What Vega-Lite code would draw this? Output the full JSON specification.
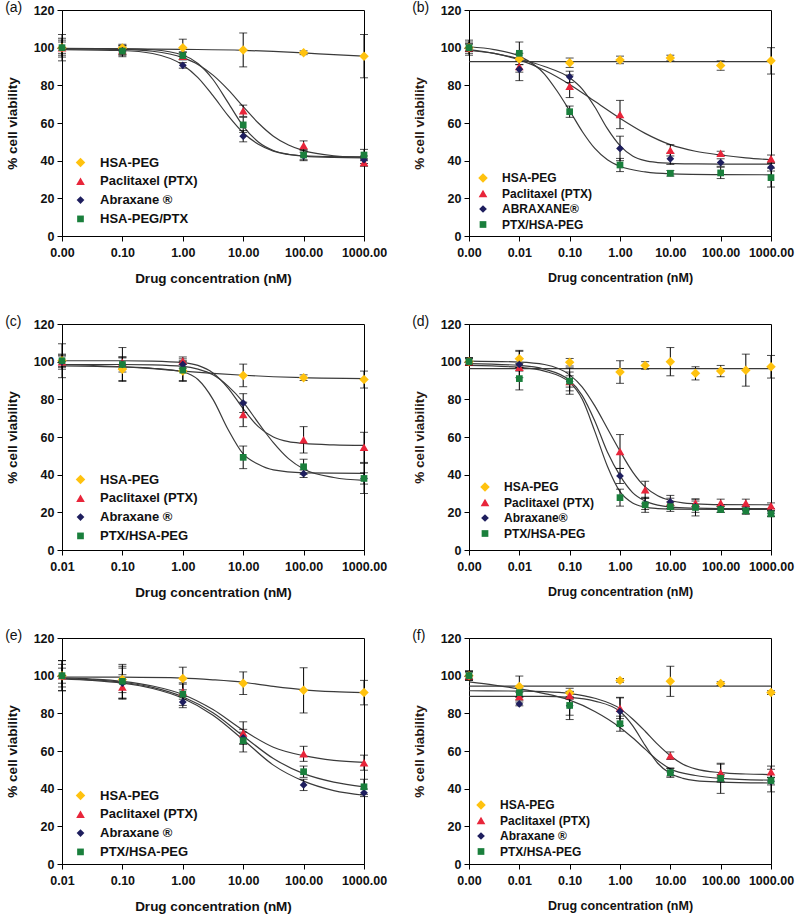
{
"$schema": "https://vega.github.io/schema/vega-lite/v6.json",
"padding": {"left": 4, "top": 0, "right": 5, "bottom": 2},
"config": {
 "font": "Liberation Sans",
 "view": {"stroke": "#000", "strokeWidth": 1},
 "axis": {"domainColor": "#000", "tickColor": "#000", "labelColor": "#111", "titleColor": "#111", "labelFontWeight": "bold", "labelFontSize": 12.5, "titleFontWeight": "bold", "titleFontSize": 13.5, "grid": false, "tickSize": 5, "labelFlush": false, "labelOverlap": false, "labelPadding": 3},
 "axisY": {"titlePadding": 14},
 "axisX": {"titlePadding": 13, "labelPadding": 5},
 "legend": {"orient": "none", "padding": 0, "labelFontSize": 13, "labelFontWeight": "bold", "labelColor": "#111", "rowPadding": 4.8, "labelOffset": 13},
 "title": {"anchor": "start", "frame": "bounds", "fontSize": 14, "fontWeight": "normal", "color": "#111", "dy": 15, "offset": 0}
},
"spacing": {"row": 28, "column": 23},
"columns": 2,
"resolve": {"scale": {"x": "independent", "y": "independent", "color": "independent", "shape": "independent", "size": "independent"}, "legend": {"color": "independent", "shape": "independent", "size": "independent"}},
"datasets": {
 "pts": [
  {"p":"a","s":"H","c":0.01,"v":100,"e":7},{"p":"a","s":"H","c":0.1,"v":99.8,"e":2},{"p":"a","s":"H","c":1,"v":100,"e":4.5},{"p":"a","s":"H","c":10,"v":98.8,"e":9},{"p":"a","s":"H","c":100,"v":97.3,"e":1},{"p":"a","s":"H","c":1000,"v":95.5,"e":11.5},
  {"p":"a","s":"P","c":0.01,"v":100,"e":4},{"p":"a","s":"P","c":0.1,"v":98.5,"e":2.5},{"p":"a","s":"P","c":1,"v":95.5,"e":2},{"p":"a","s":"P","c":10,"v":66.5,"e":3},{"p":"a","s":"P","c":100,"v":48,"e":2.5},{"p":"a","s":"P","c":1000,"v":39,"e":2},
  {"p":"a","s":"A","c":0.01,"v":100,"e":5},{"p":"a","s":"A","c":0.1,"v":98.3,"e":2},{"p":"a","s":"A","c":1,"v":90.6,"e":1.5},{"p":"a","s":"A","c":10,"v":53,"e":3},{"p":"a","s":"A","c":100,"v":42.5,"e":2},{"p":"a","s":"A","c":1000,"v":40.5,"e":2},
  {"p":"a","s":"N","c":0.01,"v":100,"e":3},{"p":"a","s":"N","c":0.1,"v":98.2,"e":3},{"p":"a","s":"N","c":1,"v":95.8,"e":2},{"p":"a","s":"N","c":10,"v":59,"e":4},{"p":"a","s":"N","c":100,"v":43,"e":3},{"p":"a","s":"N","c":1000,"v":43,"e":3},

  {"p":"b","s":"H","c":0.001,"v":100,"e":4},{"p":"b","s":"H","c":0.01,"v":94,"e":3},{"p":"b","s":"H","c":0.1,"v":92,"e":2.5},{"p":"b","s":"H","c":1,"v":93.5,"e":2},{"p":"b","s":"H","c":10,"v":94.5,"e":1.5},{"p":"b","s":"H","c":100,"v":90.5,"e":2.5},{"p":"b","s":"H","c":1000,"v":93,"e":7},
  {"p":"b","s":"P","c":0.001,"v":100,"e":3},{"p":"b","s":"P","c":0.01,"v":90,"e":3},{"p":"b","s":"P","c":0.1,"v":79.5,"e":6},{"p":"b","s":"P","c":1,"v":64.5,"e":7.5},{"p":"b","s":"P","c":10,"v":45.5,"e":3},{"p":"b","s":"P","c":100,"v":44,"e":1},{"p":"b","s":"P","c":1000,"v":41,"e":2},
  {"p":"b","s":"A","c":0.001,"v":100,"e":2},{"p":"b","s":"A","c":0.01,"v":88.5,"e":6},{"p":"b","s":"A","c":0.1,"v":84.5,"e":3},{"p":"b","s":"A","c":1,"v":46.5,"e":6.5},{"p":"b","s":"A","c":10,"v":41,"e":3},{"p":"b","s":"A","c":100,"v":39,"e":2},{"p":"b","s":"A","c":1000,"v":36.5,"e":2},
  {"p":"b","s":"N","c":0.001,"v":100,"e":2},{"p":"b","s":"N","c":0.01,"v":97,"e":6},{"p":"b","s":"N","c":0.1,"v":66,"e":3},{"p":"b","s":"N","c":1,"v":37.7,"e":3.5},{"p":"b","s":"N","c":10,"v":33.3,"e":1.5},{"p":"b","s":"N","c":100,"v":33.5,"e":3},{"p":"b","s":"N","c":1000,"v":31,"e":5},

  {"p":"c","s":"H","c":0.01,"v":100.5,"e":9},{"p":"c","s":"H","c":0.1,"v":96,"e":6},{"p":"c","s":"H","c":1,"v":95,"e":5},{"p":"c","s":"H","c":10,"v":92.7,"e":6},{"p":"c","s":"H","c":100,"v":91.5,"e":1.5},{"p":"c","s":"H","c":1000,"v":90.5,"e":4.5},
  {"p":"c","s":"P","c":0.01,"v":100,"e":3},{"p":"c","s":"P","c":0.1,"v":99.5,"e":3},{"p":"c","s":"P","c":1,"v":100.5,"e":2},{"p":"c","s":"P","c":10,"v":72,"e":6.5},{"p":"c","s":"P","c":100,"v":58.5,"e":7},{"p":"c","s":"P","c":1000,"v":54.5,"e":8},
  {"p":"c","s":"A","c":0.01,"v":100,"e":4},{"p":"c","s":"A","c":0.1,"v":98.5,"e":4},{"p":"c","s":"A","c":1,"v":98.5,"e":2},{"p":"c","s":"A","c":10,"v":78,"e":5},{"p":"c","s":"A","c":100,"v":40.5,"e":2},{"p":"c","s":"A","c":1000,"v":38,"e":3},
  {"p":"c","s":"N","c":0.01,"v":100.5,"e":3},{"p":"c","s":"N","c":0.1,"v":98.5,"e":9},{"p":"c","s":"N","c":1,"v":95.5,"e":6},{"p":"c","s":"N","c":10,"v":49.2,"e":6},{"p":"c","s":"N","c":100,"v":44.2,"e":4},{"p":"c","s":"N","c":1000,"v":38,"e":8},

  {"p":"d","s":"H","c":0.001,"v":100,"e":2},{"p":"d","s":"H","c":0.01,"v":101.5,"e":4.5},{"p":"d","s":"H","c":0.1,"v":99.7,"e":2},{"p":"d","s":"H","c":1,"v":94.5,"e":6},{"p":"d","s":"H","c":3.16,"v":98,"e":2},{"p":"d","s":"H","c":10,"v":100,"e":7.5},{"p":"d","s":"H","c":31.6,"v":93.8,"e":3.5},{"p":"d","s":"H","c":100,"v":95,"e":3},{"p":"d","s":"H","c":316,"v":95.5,"e":8.5},{"p":"d","s":"H","c":1000,"v":97.3,"e":6},
  {"p":"d","s":"P","c":0.001,"v":100,"e":2},{"p":"d","s":"P","c":0.01,"v":97,"e":2},{"p":"d","s":"P","c":0.1,"v":89.5,"e":3},{"p":"d","s":"P","c":1,"v":52.3,"e":9},{"p":"d","s":"P","c":3.16,"v":32,"e":4.5},{"p":"d","s":"P","c":10,"v":25.5,"e":2},{"p":"d","s":"P","c":31.6,"v":25,"e":2},{"p":"d","s":"P","c":100,"v":25,"e":2},{"p":"d","s":"P","c":316,"v":25,"e":2},{"p":"d","s":"P","c":1000,"v":23.5,"e":1.5},
  {"p":"d","s":"A","c":0.001,"v":100,"e":2},{"p":"d","s":"A","c":0.01,"v":98.5,"e":7},{"p":"d","s":"A","c":0.1,"v":89.5,"e":5},{"p":"d","s":"A","c":1,"v":39.3,"e":4},{"p":"d","s":"A","c":3.16,"v":24.5,"e":3},{"p":"d","s":"A","c":10,"v":25.5,"e":3.5},{"p":"d","s":"A","c":31.6,"v":23,"e":3},{"p":"d","s":"A","c":100,"v":22,"e":2},{"p":"d","s":"A","c":316,"v":21,"e":2},{"p":"d","s":"A","c":1000,"v":19.5,"e":1.5},
  {"p":"d","s":"N","c":0.001,"v":100,"e":1.5},{"p":"d","s":"N","c":0.01,"v":91,"e":6},{"p":"d","s":"N","c":0.1,"v":89.7,"e":7},{"p":"d","s":"N","c":1,"v":27.8,"e":4.5},{"p":"d","s":"N","c":3.16,"v":24,"e":4},{"p":"d","s":"N","c":10,"v":23,"e":2.5},{"p":"d","s":"N","c":31.6,"v":22.6,"e":4.5},{"p":"d","s":"N","c":100,"v":21.5,"e":1.5},{"p":"d","s":"N","c":316,"v":20.8,"e":1.5},{"p":"d","s":"N","c":1000,"v":19.2,"e":1.5},

  {"p":"e","s":"H","c":0.01,"v":100,"e":8},{"p":"e","s":"H","c":0.1,"v":98,"e":7},{"p":"e","s":"H","c":1,"v":98.5,"e":6},{"p":"e","s":"H","c":10,"v":96,"e":6},{"p":"e","s":"H","c":100,"v":92.2,"e":12},{"p":"e","s":"H","c":1000,"v":91,"e":6.5},
  {"p":"e","s":"P","c":0.01,"v":100,"e":4},{"p":"e","s":"P","c":0.1,"v":94,"e":6.5},{"p":"e","s":"P","c":1,"v":91.5,"e":4},{"p":"e","s":"P","c":10,"v":69.5,"e":6},{"p":"e","s":"P","c":100,"v":58.5,"e":4},{"p":"e","s":"P","c":1000,"v":53.8,"e":4},
  {"p":"e","s":"A","c":0.01,"v":100,"e":6},{"p":"e","s":"A","c":0.1,"v":96,"e":8},{"p":"e","s":"A","c":1,"v":86,"e":3},{"p":"e","s":"A","c":10,"v":67,"e":3},{"p":"e","s":"A","c":100,"v":42,"e":3},{"p":"e","s":"A","c":1000,"v":37.8,"e":2},
  {"p":"e","s":"N","c":0.01,"v":100,"e":8},{"p":"e","s":"N","c":0.1,"v":97,"e":9},{"p":"e","s":"N","c":1,"v":90.2,"e":6},{"p":"e","s":"N","c":10,"v":65.5,"e":6},{"p":"e","s":"N","c":100,"v":49,"e":3},{"p":"e","s":"N","c":1000,"v":41,"e":4},

  {"p":"f","s":"H","c":0.001,"v":100,"e":2.5},{"p":"f","s":"H","c":0.01,"v":94.3,"e":5.5},{"p":"f","s":"H","c":0.1,"v":90.8,"e":2.5},{"p":"f","s":"H","c":1,"v":97.5,"e":1},{"p":"f","s":"H","c":10,"v":97,"e":8},{"p":"f","s":"H","c":100,"v":95.8,"e":1},{"p":"f","s":"H","c":1000,"v":91,"e":1},
  {"p":"f","s":"P","c":0.001,"v":100,"e":2},{"p":"f","s":"P","c":0.01,"v":89,"e":2},{"p":"f","s":"P","c":0.1,"v":89.5,"e":2},{"p":"f","s":"P","c":1,"v":82.7,"e":5.5},{"p":"f","s":"P","c":10,"v":57.5,"e":2},{"p":"f","s":"P","c":100,"v":48.5,"e":4.5},{"p":"f","s":"P","c":1000,"v":49,"e":3},
  {"p":"f","s":"A","c":0.001,"v":100,"e":2},{"p":"f","s":"A","c":0.01,"v":85,"e":1},{"p":"f","s":"A","c":0.1,"v":84,"e":5},{"p":"f","s":"A","c":1,"v":81,"e":7.5},{"p":"f","s":"A","c":10,"v":48.7,"e":2},{"p":"f","s":"A","c":100,"v":45.5,"e":2},{"p":"f","s":"A","c":1000,"v":44,"e":2},
  {"p":"f","s":"N","c":0.001,"v":100,"e":2.5},{"p":"f","s":"N","c":0.01,"v":91,"e":2.5},{"p":"f","s":"N","c":0.1,"v":84.2,"e":7.5},{"p":"f","s":"N","c":1,"v":74.5,"e":4},{"p":"f","s":"N","c":10,"v":48.5,"e":2.5},{"p":"f","s":"N","c":100,"v":45.5,"e":8},{"p":"f","s":"N","c":1000,"v":44.3,"e":6}
 ],
 "fit": [
  {"p":"a","s":"H","c":0.01,"v":99.6},{"p":"a","s":"H","c":0.1,"v":99.4},{"p":"a","s":"H","c":1,"v":99.1},{"p":"a","s":"H","c":10,"v":98.6},{"p":"a","s":"H","c":31.6,"v":98},{"p":"a","s":"H","c":100,"v":97.2},{"p":"a","s":"H","c":316,"v":96.3},{"p":"a","s":"H","c":1000,"v":95.5},
  {"p":"a","s":"P","c":0.01,"v":99.5},{"p":"a","s":"P","c":0.1,"v":99.1},{"p":"a","s":"P","c":0.316,"v":98.1},{"p":"a","s":"P","c":1,"v":94.7},{"p":"a","s":"P","c":1.78,"v":91.1},{"p":"a","s":"P","c":3.16,"v":85.4},{"p":"a","s":"P","c":5.62,"v":77.7},{"p":"a","s":"P","c":10,"v":68.7},{"p":"a","s":"P","c":17.8,"v":60},{"p":"a","s":"P","c":31.6,"v":53},{"p":"a","s":"P","c":56.2,"v":48.3},{"p":"a","s":"P","c":100,"v":45.3},{"p":"a","s":"P","c":316,"v":42.6},{"p":"a","s":"P","c":1000,"v":41.8},
  {"p":"a","s":"A","c":0.01,"v":99},{"p":"a","s":"A","c":0.1,"v":98.5},{"p":"a","s":"A","c":0.316,"v":96.9},{"p":"a","s":"A","c":1,"v":90.8},{"p":"a","s":"A","c":1.78,"v":84.1},{"p":"a","s":"A","c":3.16,"v":74.5},{"p":"a","s":"A","c":5.62,"v":63.9},{"p":"a","s":"A","c":10,"v":54.8},{"p":"a","s":"A","c":17.8,"v":48.7},{"p":"a","s":"A","c":31.6,"v":45.1},{"p":"a","s":"A","c":100,"v":42.4},{"p":"a","s":"A","c":316,"v":41.7},{"p":"a","s":"A","c":1000,"v":41.5},
  {"p":"a","s":"N","c":0.01,"v":99.5},{"p":"a","s":"N","c":0.1,"v":99.4},{"p":"a","s":"N","c":0.316,"v":98.9},{"p":"a","s":"N","c":1,"v":96.1},{"p":"a","s":"N","c":1.78,"v":91.6},{"p":"a","s":"N","c":3.16,"v":83.1},{"p":"a","s":"N","c":5.62,"v":70.8},{"p":"a","s":"N","c":10,"v":58.4},{"p":"a","s":"N","c":17.8,"v":49.9},{"p":"a","s":"N","c":31.6,"v":45.4},{"p":"a","s":"N","c":56.2,"v":43.4},{"p":"a","s":"N","c":100,"v":42.6},{"p":"a","s":"N","c":316,"v":42.1},{"p":"a","s":"N","c":1000,"v":42},

  {"p":"b","s":"H","c":0.001,"v":92.6},{"p":"b","s":"H","c":1000,"v":92.6},
  {"p":"b","s":"P","c":0.001,"v":99},{"p":"b","s":"P","c":0.00316,"v":97},{"p":"b","s":"P","c":0.01,"v":93.5},{"p":"b","s":"P","c":0.0316,"v":88},{"p":"b","s":"P","c":0.1,"v":80.5},{"p":"b","s":"P","c":0.316,"v":71.5},{"p":"b","s":"P","c":1,"v":62.5},{"p":"b","s":"P","c":3.16,"v":54.5},{"p":"b","s":"P","c":10,"v":48.5},{"p":"b","s":"P","c":31.6,"v":45},{"p":"b","s":"P","c":100,"v":43},{"p":"b","s":"P","c":316,"v":41.5},{"p":"b","s":"P","c":1000,"v":40.5},
  {"p":"b","s":"A","c":0.001,"v":98.5},{"p":"b","s":"A","c":0.00316,"v":97},{"p":"b","s":"A","c":0.01,"v":94},{"p":"b","s":"A","c":0.0316,"v":90},{"p":"b","s":"A","c":0.1,"v":84},{"p":"b","s":"A","c":0.178,"v":78},{"p":"b","s":"A","c":0.316,"v":68.5},{"p":"b","s":"A","c":0.562,"v":57},{"p":"b","s":"A","c":1,"v":48},{"p":"b","s":"A","c":1.78,"v":42.5},{"p":"b","s":"A","c":3.16,"v":40},{"p":"b","s":"A","c":5.62,"v":39},{"p":"b","s":"A","c":10,"v":38.6},{"p":"b","s":"A","c":31.6,"v":38.3},{"p":"b","s":"A","c":100,"v":38.2},{"p":"b","s":"A","c":1000,"v":38.2},
  {"p":"b","s":"N","c":0.001,"v":100.5},{"p":"b","s":"N","c":0.00316,"v":99},{"p":"b","s":"N","c":0.01,"v":95.5},{"p":"b","s":"N","c":0.0316,"v":86},{"p":"b","s":"N","c":0.0562,"v":77},{"p":"b","s":"N","c":0.1,"v":66.5},{"p":"b","s":"N","c":0.178,"v":55.5},{"p":"b","s":"N","c":0.316,"v":46.5},{"p":"b","s":"N","c":0.562,"v":40.5},{"p":"b","s":"N","c":1,"v":37},{"p":"b","s":"N","c":3.16,"v":34},{"p":"b","s":"N","c":10,"v":33},{"p":"b","s":"N","c":100,"v":32.6},{"p":"b","s":"N","c":1000,"v":32.5},

  {"p":"c","s":"H","c":0.01,"v":98.5},{"p":"c","s":"H","c":0.1,"v":97.3},{"p":"c","s":"H","c":0.316,"v":96.3},{"p":"c","s":"H","c":1,"v":95},{"p":"c","s":"H","c":3.16,"v":93.8},{"p":"c","s":"H","c":10,"v":92.8},{"p":"c","s":"H","c":31.6,"v":92},{"p":"c","s":"H","c":100,"v":91.5},{"p":"c","s":"H","c":1000,"v":91},
  {"p":"c","s":"P","c":0.01,"v":100.5},{"p":"c","s":"P","c":0.1,"v":100.5},{"p":"c","s":"P","c":0.316,"v":100.3},{"p":"c","s":"P","c":1,"v":99.5},{"p":"c","s":"P","c":1.78,"v":98},{"p":"c","s":"P","c":3.16,"v":94},{"p":"c","s":"P","c":5.62,"v":86},{"p":"c","s":"P","c":10,"v":75},{"p":"c","s":"P","c":17.8,"v":65.5},{"p":"c","s":"P","c":31.6,"v":60},{"p":"c","s":"P","c":56.2,"v":57.5},{"p":"c","s":"P","c":100,"v":56.6},{"p":"c","s":"P","c":316,"v":55.8},{"p":"c","s":"P","c":1000,"v":55.5},
  {"p":"c","s":"A","c":0.01,"v":98.5},{"p":"c","s":"A","c":0.1,"v":98.5},{"p":"c","s":"A","c":0.316,"v":98.3},{"p":"c","s":"A","c":1,"v":97.5},{"p":"c","s":"A","c":1.78,"v":96},{"p":"c","s":"A","c":3.16,"v":93},{"p":"c","s":"A","c":5.62,"v":87},{"p":"c","s":"A","c":10,"v":78.5},{"p":"c","s":"A","c":17.8,"v":67.5},{"p":"c","s":"A","c":31.6,"v":57},{"p":"c","s":"A","c":56.2,"v":48.5},{"p":"c","s":"A","c":100,"v":43},{"p":"c","s":"A","c":316,"v":38.5},{"p":"c","s":"A","c":1000,"v":37},
  {"p":"c","s":"N","c":0.01,"v":97.8},{"p":"c","s":"N","c":0.1,"v":97.2},{"p":"c","s":"N","c":0.316,"v":96.5},{"p":"c","s":"N","c":1,"v":94.5},{"p":"c","s":"N","c":1.78,"v":90.5},{"p":"c","s":"N","c":3.16,"v":80},{"p":"c","s":"N","c":5.62,"v":64},{"p":"c","s":"N","c":10,"v":51},{"p":"c","s":"N","c":17.8,"v":45.5},{"p":"c","s":"N","c":31.6,"v":42.5},{"p":"c","s":"N","c":100,"v":41},{"p":"c","s":"N","c":1000,"v":40.7},

  {"p":"d","s":"H","c":0.001,"v":96.3},{"p":"d","s":"H","c":1000,"v":96.3},
  {"p":"d","s":"P","c":0.001,"v":100.3},{"p":"d","s":"P","c":0.01,"v":99.8},{"p":"d","s":"P","c":0.0316,"v":98.5},{"p":"d","s":"P","c":0.1,"v":93},{"p":"d","s":"P","c":0.178,"v":86.5},{"p":"d","s":"P","c":0.316,"v":76.5},{"p":"d","s":"P","c":0.562,"v":64.5},{"p":"d","s":"P","c":1,"v":52.5},{"p":"d","s":"P","c":1.78,"v":41.5},{"p":"d","s":"P","c":3.16,"v":33.5},{"p":"d","s":"P","c":5.62,"v":28.8},{"p":"d","s":"P","c":10,"v":26.3},{"p":"d","s":"P","c":17.8,"v":25},{"p":"d","s":"P","c":31.6,"v":24.5},{"p":"d","s":"P","c":100,"v":24.1},{"p":"d","s":"P","c":1000,"v":24},
  {"p":"d","s":"A","c":0.001,"v":99},{"p":"d","s":"A","c":0.01,"v":98},{"p":"d","s":"A","c":0.0316,"v":96},{"p":"d","s":"A","c":0.1,"v":90},{"p":"d","s":"A","c":0.178,"v":82},{"p":"d","s":"A","c":0.316,"v":68.5},{"p":"d","s":"A","c":0.562,"v":52},{"p":"d","s":"A","c":1,"v":39.5},{"p":"d","s":"A","c":1.78,"v":30.5},{"p":"d","s":"A","c":3.16,"v":26},{"p":"d","s":"A","c":5.62,"v":23.8},{"p":"d","s":"A","c":10,"v":22.8},{"p":"d","s":"A","c":31.6,"v":22.2},{"p":"d","s":"A","c":100,"v":22},{"p":"d","s":"A","c":1000,"v":22},
  {"p":"d","s":"N","c":0.001,"v":98},{"p":"d","s":"N","c":0.01,"v":97},{"p":"d","s":"N","c":0.0316,"v":95},{"p":"d","s":"N","c":0.1,"v":89},{"p":"d","s":"N","c":0.178,"v":80},{"p":"d","s":"N","c":0.316,"v":63},{"p":"d","s":"N","c":0.562,"v":44.5},{"p":"d","s":"N","c":1,"v":31},{"p":"d","s":"N","c":1.78,"v":25},{"p":"d","s":"N","c":3.16,"v":22.8},{"p":"d","s":"N","c":5.62,"v":22},{"p":"d","s":"N","c":10,"v":21.7},{"p":"d","s":"N","c":100,"v":21.5},{"p":"d","s":"N","c":1000,"v":21.5},

  {"p":"e","s":"H","c":0.01,"v":99.3},{"p":"e","s":"H","c":0.1,"v":99.2},{"p":"e","s":"H","c":1,"v":98.7},{"p":"e","s":"H","c":3.16,"v":97.8},{"p":"e","s":"H","c":10,"v":96.5},{"p":"e","s":"H","c":31.6,"v":94.3},{"p":"e","s":"H","c":100,"v":92.5},{"p":"e","s":"H","c":316,"v":91.5},{"p":"e","s":"H","c":1000,"v":91},
  {"p":"e","s":"P","c":0.01,"v":98.8},{"p":"e","s":"P","c":0.0316,"v":98.2},{"p":"e","s":"P","c":0.1,"v":97},{"p":"e","s":"P","c":0.316,"v":94.5},{"p":"e","s":"P","c":1,"v":90},{"p":"e","s":"P","c":3.16,"v":82},{"p":"e","s":"P","c":10,"v":71},{"p":"e","s":"P","c":31.6,"v":62},{"p":"e","s":"P","c":100,"v":57.5},{"p":"e","s":"P","c":316,"v":55},{"p":"e","s":"P","c":1000,"v":54},
  {"p":"e","s":"N","c":0.01,"v":98.5},{"p":"e","s":"N","c":0.0316,"v":97.8},{"p":"e","s":"N","c":0.1,"v":96.5},{"p":"e","s":"N","c":0.316,"v":93.8},{"p":"e","s":"N","c":1,"v":88.8},{"p":"e","s":"N","c":3.16,"v":80.3},{"p":"e","s":"N","c":10,"v":68},{"p":"e","s":"N","c":31.6,"v":56},{"p":"e","s":"N","c":100,"v":48},{"p":"e","s":"N","c":316,"v":43.5},{"p":"e","s":"N","c":1000,"v":41},
  {"p":"e","s":"A","c":0.01,"v":98.3},{"p":"e","s":"A","c":0.0316,"v":97.5},{"p":"e","s":"A","c":0.1,"v":96},{"p":"e","s":"A","c":0.316,"v":93.2},{"p":"e","s":"A","c":1,"v":88},{"p":"e","s":"A","c":3.16,"v":79},{"p":"e","s":"A","c":10,"v":66},{"p":"e","s":"A","c":31.6,"v":52.5},{"p":"e","s":"A","c":100,"v":44},{"p":"e","s":"A","c":316,"v":39},{"p":"e","s":"A","c":1000,"v":36.5},

  {"p":"f","s":"H","c":0.001,"v":94.5},{"p":"f","s":"H","c":1000,"v":94.5},
  {"p":"f","s":"P","c":0.001,"v":92},{"p":"f","s":"P","c":0.01,"v":91.8},{"p":"f","s":"P","c":0.0316,"v":91.5},{"p":"f","s":"P","c":0.1,"v":90.5},{"p":"f","s":"P","c":0.316,"v":88},{"p":"f","s":"P","c":1,"v":82.5},{"p":"f","s":"P","c":1.78,"v":77},{"p":"f","s":"P","c":3.16,"v":70.5},{"p":"f","s":"P","c":5.62,"v":63.5},{"p":"f","s":"P","c":10,"v":57.5},{"p":"f","s":"P","c":17.8,"v":53},{"p":"f","s":"P","c":31.6,"v":50.5},{"p":"f","s":"P","c":100,"v":48.5},{"p":"f","s":"P","c":316,"v":47.8},{"p":"f","s":"P","c":1000,"v":47.5},
  {"p":"f","s":"A","c":0.001,"v":89},{"p":"f","s":"A","c":0.01,"v":89},{"p":"f","s":"A","c":0.0316,"v":89},{"p":"f","s":"A","c":0.1,"v":88.5},{"p":"f","s":"A","c":0.316,"v":86.5},{"p":"f","s":"A","c":1,"v":81},{"p":"f","s":"A","c":1.78,"v":73.5},{"p":"f","s":"A","c":3.16,"v":63},{"p":"f","s":"A","c":5.62,"v":53.5},{"p":"f","s":"A","c":10,"v":48},{"p":"f","s":"A","c":17.8,"v":45.5},{"p":"f","s":"A","c":31.6,"v":44.3},{"p":"f","s":"A","c":100,"v":43.5},{"p":"f","s":"A","c":1000,"v":43},
  {"p":"f","s":"N","c":0.001,"v":96.7},{"p":"f","s":"N","c":0.00316,"v":95},{"p":"f","s":"N","c":0.01,"v":93},{"p":"f","s":"N","c":0.0316,"v":90.5},{"p":"f","s":"N","c":0.1,"v":87},{"p":"f","s":"N","c":0.316,"v":81},{"p":"f","s":"N","c":1,"v":72.5},{"p":"f","s":"N","c":1.78,"v":67},{"p":"f","s":"N","c":3.16,"v":61},{"p":"f","s":"N","c":5.62,"v":55},{"p":"f","s":"N","c":10,"v":50.5},{"p":"f","s":"N","c":31.6,"v":47},{"p":"f","s":"N","c":100,"v":45.5},{"p":"f","s":"N","c":1000,"v":44.5}
 ]
},
"concat": [
 {
  "width": 302, "height": 226,
  "title": {"text": "(a)"},
  "encoding": {
   "x": {"field": "c", "type": "quantitative", "scale": {"type": "log", "domain": [0.01, 1000], "nice": false}, "axis": {"values": [0.01, 0.1, 1, 10, 100, 1000], "labelExpr": "datum.value < 0.05 ? '0.00' : format(datum.value, '.2f')", "title": "Drug concentration (nM)"}},
   "y": {"field": "v", "type": "quantitative", "scale": {"domain": [0, 120], "nice": false}, "axis": {"values": [0, 20, 40, 60, 80, 100, 120], "title": "% cell viability"}}
  },
  "layer": [
   {"data": {"name": "fit"}, "transform": [{"filter": "datum.p == 'a'"}], "mark": {"type": "line", "interpolate": "monotone", "color": "#3a3a3a", "strokeWidth": 1.2}, "encoding": {"detail": {"field": "s"}}},
   {"data": {"name": "pts"}, "transform": [{"filter": "datum.p == 'a'"}], "mark": {"type": "errorbar", "ticks": {"size": 8, "color": "#000"}, "color": "#000"}, "encoding": {"yError": {"field": "e"}}},
   {"data": {"name": "pts"}, "transform": [{"filter": "datum.p == 'a'"}], "mark": {"type": "point", "filled": true, "opacity": 1},
    "encoding": {
     "color": {"field": "s", "type": "nominal", "scale": {"domain": ["H", "P", "A", "N"], "range": ["#FFC20E", "#E8253A", "#1E1E5E", "#1A7F3C"]}, "legend": {"title": null, "legendX": 12, "legendY": 146, "labelExpr": "datum.label == 'H' ? 'HSA-PEG' : datum.label == 'P' ? 'Paclitaxel (PTX)' : datum.label == 'A' ? 'Abraxane ®' : 'HSA-PEG/PTX'"}},
     "shape": {"field": "s", "type": "nominal", "scale": {"domain": ["H", "P", "A", "N"], "range": ["diamond", "triangle-up", "diamond", "square"]}, "legend": {"title": null, "legendX": 12, "legendY": 146, "labelExpr": "datum.label == 'H' ? 'HSA-PEG' : datum.label == 'P' ? 'Paclitaxel (PTX)' : datum.label == 'A' ? 'Abraxane ®' : 'HSA-PEG/PTX'"}},
     "size": {"field": "s", "type": "nominal", "scale": {"domain": ["H", "P", "A", "N"], "range": [90, 45, 40, 64]}, "legend": {"title": null, "legendX": 12, "legendY": 146, "labelExpr": "datum.label == 'H' ? 'HSA-PEG' : datum.label == 'P' ? 'Paclitaxel (PTX)' : datum.label == 'A' ? 'Abraxane ®' : 'HSA-PEG/PTX'"}}
    }},
   {"data": {"values": [{}]}, "mark": {"type": "text", "text": "SK-BR-3 (24 h)", "align": "right", "baseline": "middle", "dx": -11, "fontSize": 18, "fontWeight": "bold", "color": "#111"}, "encoding": {"x": {"datum": 1000}, "y": {"datum": 110.5}}}
  ]
 },
 {
  "width": 302, "height": 226,
  "title": {"text": "(b)"},
  "encoding": {
   "x": {"field": "c", "type": "quantitative", "scale": {"type": "log", "domain": [0.001, 1000], "nice": false}, "axis": {"values": [0.001, 0.01, 0.1, 1, 10, 100, 1000], "format": ".2f", "title": "Drug concentration (nM)", "titleFontSize": 12.5}},
   "y": {"field": "v", "type": "quantitative", "scale": {"domain": [0, 120], "nice": false}, "axis": {"values": [0, 20, 40, 60, 80, 100, 120], "title": "% cell viability", "titleColor": "#2a1a14"}}
  },
  "layer": [
   {"data": {"name": "fit"}, "transform": [{"filter": "datum.p == 'b'"}], "mark": {"type": "line", "interpolate": "monotone", "color": "#3a3a3a", "strokeWidth": 1.2}, "encoding": {"detail": {"field": "s"}}},
   {"data": {"name": "pts"}, "transform": [{"filter": "datum.p == 'b'"}], "mark": {"type": "errorbar", "ticks": {"size": 8, "color": "#000"}, "color": "#000"}, "encoding": {"yError": {"field": "e"}}},
   {"data": {"name": "pts"}, "transform": [{"filter": "datum.p == 'b'"}], "mark": {"type": "point", "filled": true, "opacity": 1},
    "encoding": {
     "color": {"field": "s", "type": "nominal", "scale": {"domain": ["H", "P", "A", "N"], "range": ["#FFC20E", "#E8253A", "#1E1E5E", "#1A7F3C"]}, "legend": {"title": null, "legendX": 8, "legendY": 162, "labelFontSize": 12, "rowPadding": 3.5, "labelExpr": "datum.label == 'H' ? 'HSA-PEG' : datum.label == 'P' ? 'Paclitaxel (PTX)' : datum.label == 'A' ? 'ABRAXANE®' : 'PTX/HSA-PEG'"}},
     "shape": {"field": "s", "type": "nominal", "scale": {"domain": ["H", "P", "A", "N"], "range": ["diamond", "triangle-up", "diamond", "square"]}, "legend": {"title": null, "legendX": 8, "legendY": 162, "labelFontSize": 12, "rowPadding": 3.5, "labelExpr": "datum.label == 'H' ? 'HSA-PEG' : datum.label == 'P' ? 'Paclitaxel (PTX)' : datum.label == 'A' ? 'ABRAXANE®' : 'PTX/HSA-PEG'"}},
     "size": {"field": "s", "type": "nominal", "scale": {"domain": ["H", "P", "A", "N"], "range": [90, 45, 40, 64]}, "legend": {"title": null, "legendX": 8, "legendY": 162, "labelFontSize": 12, "rowPadding": 3.5, "labelExpr": "datum.label == 'H' ? 'HSA-PEG' : datum.label == 'P' ? 'Paclitaxel (PTX)' : datum.label == 'A' ? 'ABRAXANE®' : 'PTX/HSA-PEG'"}}
    }},
   {"data": {"values": [{}]}, "mark": {"type": "text", "text": "SK-BR-3 (72 h)", "align": "right", "baseline": "middle", "dx": -14, "fontSize": 18, "fontWeight": "bold", "color": "#111"}, "encoding": {"x": {"datum": 1000}, "y": {"datum": 108.5}}}
  ]
 },
 {
  "width": 302, "height": 226,
  "title": {"text": "(c)"},
  "encoding": {
   "x": {"field": "c", "type": "quantitative", "scale": {"type": "log", "domain": [0.01, 1000], "nice": false}, "axis": {"values": [0.01, 0.1, 1, 10, 100, 1000], "format": ".2f", "title": "Drug concentration (nM)"}},
   "y": {"field": "v", "type": "quantitative", "scale": {"domain": [0, 120], "nice": false}, "axis": {"values": [0, 20, 40, 60, 80, 100, 120], "title": "% cell viability"}}
  },
  "layer": [
   {"data": {"name": "fit"}, "transform": [{"filter": "datum.p == 'c'"}], "mark": {"type": "line", "interpolate": "monotone", "color": "#3a3a3a", "strokeWidth": 1.2}, "encoding": {"detail": {"field": "s"}}},
   {"data": {"name": "pts"}, "transform": [{"filter": "datum.p == 'c'"}], "mark": {"type": "errorbar", "ticks": {"size": 8, "color": "#000"}, "color": "#000"}, "encoding": {"yError": {"field": "e"}}},
   {"data": {"name": "pts"}, "transform": [{"filter": "datum.p == 'c'"}], "mark": {"type": "point", "filled": true, "opacity": 1},
    "encoding": {
     "color": {"field": "s", "type": "nominal", "scale": {"domain": ["H", "P", "A", "N"], "range": ["#FFC20E", "#E8253A", "#1E1E5E", "#1A7F3C"]}, "legend": {"title": null, "legendX": 12, "legendY": 149, "labelExpr": "datum.label == 'H' ? 'HSA-PEG' : datum.label == 'P' ? 'Paclitaxel (PTX)' : datum.label == 'A' ? 'Abraxane ®' : 'PTX/HSA-PEG'"}},
     "shape": {"field": "s", "type": "nominal", "scale": {"domain": ["H", "P", "A", "N"], "range": ["diamond", "triangle-up", "diamond", "square"]}, "legend": {"title": null, "legendX": 12, "legendY": 149, "labelExpr": "datum.label == 'H' ? 'HSA-PEG' : datum.label == 'P' ? 'Paclitaxel (PTX)' : datum.label == 'A' ? 'Abraxane ®' : 'PTX/HSA-PEG'"}},
     "size": {"field": "s", "type": "nominal", "scale": {"domain": ["H", "P", "A", "N"], "range": [90, 45, 40, 64]}, "legend": {"title": null, "legendX": 12, "legendY": 149, "labelExpr": "datum.label == 'H' ? 'HSA-PEG' : datum.label == 'P' ? 'Paclitaxel (PTX)' : datum.label == 'A' ? 'Abraxane ®' : 'PTX/HSA-PEG'"}}
    }},
   {"data": {"values": [{}]}, "mark": {"type": "text", "text": "MDA-MB-453\u00a0 (24 h)", "align": "right", "baseline": "middle", "dx": -13, "fontSize": 18, "fontWeight": "bold", "color": "#111"}, "encoding": {"x": {"datum": 1000}, "y": {"datum": 110}}}
  ]
 },
 {
  "width": 302, "height": 226,
  "title": {"text": "(d)"},
  "encoding": {
   "x": {"field": "c", "type": "quantitative", "scale": {"type": "log", "domain": [0.001, 1000], "nice": false}, "axis": {"values": [0.001, 0.01, 0.1, 1, 10, 100, 1000], "format": ".2f", "title": "Drug concentration (nM)", "titleFontSize": 12.5}},
   "y": {"field": "v", "type": "quantitative", "scale": {"domain": [0, 120], "nice": false}, "axis": {"values": [0, 20, 40, 60, 80, 100, 120], "title": "% cell viability", "titleColor": "#2a1a14"}}
  },
  "layer": [
   {"data": {"name": "fit"}, "transform": [{"filter": "datum.p == 'd'"}], "mark": {"type": "line", "interpolate": "monotone", "color": "#3a3a3a", "strokeWidth": 1.2}, "encoding": {"detail": {"field": "s"}}},
   {"data": {"name": "pts"}, "transform": [{"filter": "datum.p == 'd'"}], "mark": {"type": "errorbar", "ticks": {"size": 8, "color": "#000"}, "color": "#000"}, "encoding": {"yError": {"field": "e"}}},
   {"data": {"name": "pts"}, "transform": [{"filter": "datum.p == 'd'"}], "mark": {"type": "point", "filled": true, "opacity": 1},
    "encoding": {
     "color": {"field": "s", "type": "nominal", "scale": {"domain": ["H", "P", "A", "N"], "range": ["#FFC20E", "#E8253A", "#1E1E5E", "#1A7F3C"]}, "legend": {"title": null, "legendX": 10, "legendY": 157, "labelFontSize": 12, "rowPadding": 3.5, "labelExpr": "datum.label == 'H' ? 'HSA-PEG' : datum.label == 'P' ? 'Paclitaxel (PTX)' : datum.label == 'A' ? 'Abraxane®' : 'PTX/HSA-PEG'"}},
     "shape": {"field": "s", "type": "nominal", "scale": {"domain": ["H", "P", "A", "N"], "range": ["diamond", "triangle-up", "diamond", "square"]}, "legend": {"title": null, "legendX": 10, "legendY": 157, "labelFontSize": 12, "rowPadding": 3.5, "labelExpr": "datum.label == 'H' ? 'HSA-PEG' : datum.label == 'P' ? 'Paclitaxel (PTX)' : datum.label == 'A' ? 'Abraxane®' : 'PTX/HSA-PEG'"}},
     "size": {"field": "s", "type": "nominal", "scale": {"domain": ["H", "P", "A", "N"], "range": [90, 45, 40, 64]}, "legend": {"title": null, "legendX": 10, "legendY": 157, "labelFontSize": 12, "rowPadding": 3.5, "labelExpr": "datum.label == 'H' ? 'HSA-PEG' : datum.label == 'P' ? 'Paclitaxel (PTX)' : datum.label == 'A' ? 'Abraxane®' : 'PTX/HSA-PEG'"}}
    }},
   {"data": {"values": [{}]}, "mark": {"type": "text", "text": "MDA-MB-453 (72 h)", "align": "right", "baseline": "middle", "dx": -14, "fontSize": 18, "fontWeight": "bold", "color": "#111"}, "encoding": {"x": {"datum": 1000}, "y": {"datum": 109.5}}}
  ]
 },
 {
  "width": 302, "height": 226,
  "title": {"text": "(e)"},
  "encoding": {
   "x": {"field": "c", "type": "quantitative", "scale": {"type": "log", "domain": [0.01, 1000], "nice": false}, "axis": {"values": [0.01, 0.1, 1, 10, 100, 1000], "format": ".2f", "title": "Drug concentration (nM)"}},
   "y": {"field": "v", "type": "quantitative", "scale": {"domain": [0, 120], "nice": false}, "axis": {"values": [0, 20, 40, 60, 80, 100, 120], "title": "% cell viability"}}
  },
  "layer": [
   {"data": {"name": "fit"}, "transform": [{"filter": "datum.p == 'e'"}], "mark": {"type": "line", "interpolate": "monotone", "color": "#3a3a3a", "strokeWidth": 1.2}, "encoding": {"detail": {"field": "s"}}},
   {"data": {"name": "pts"}, "transform": [{"filter": "datum.p == 'e'"}], "mark": {"type": "errorbar", "ticks": {"size": 8, "color": "#000"}, "color": "#000"}, "encoding": {"yError": {"field": "e"}}},
   {"data": {"name": "pts"}, "transform": [{"filter": "datum.p == 'e'"}], "mark": {"type": "point", "filled": true, "opacity": 1},
    "encoding": {
     "color": {"field": "s", "type": "nominal", "scale": {"domain": ["H", "P", "A", "N"], "range": ["#FFC20E", "#E8253A", "#1E1E5E", "#1A7F3C"]}, "legend": {"title": null, "legendX": 12, "legendY": 151, "labelExpr": "datum.label == 'H' ? 'HSA-PEG' : datum.label == 'P' ? 'Paclitaxel (PTX)' : datum.label == 'A' ? 'Abraxane ®' : 'PTX/HSA-PEG'"}},
     "shape": {"field": "s", "type": "nominal", "scale": {"domain": ["H", "P", "A", "N"], "range": ["diamond", "triangle-up", "diamond", "square"]}, "legend": {"title": null, "legendX": 12, "legendY": 151, "labelExpr": "datum.label == 'H' ? 'HSA-PEG' : datum.label == 'P' ? 'Paclitaxel (PTX)' : datum.label == 'A' ? 'Abraxane ®' : 'PTX/HSA-PEG'"}},
     "size": {"field": "s", "type": "nominal", "scale": {"domain": ["H", "P", "A", "N"], "range": [90, 45, 40, 64]}, "legend": {"title": null, "legendX": 12, "legendY": 151, "labelExpr": "datum.label == 'H' ? 'HSA-PEG' : datum.label == 'P' ? 'Paclitaxel (PTX)' : datum.label == 'A' ? 'Abraxane ®' : 'PTX/HSA-PEG'"}}
    }},
   {"data": {"values": [{}]}, "mark": {"type": "text", "text": "MCF-7 (24 h)", "align": "right", "baseline": "middle", "dx": -18, "fontSize": 18, "fontWeight": "bold", "color": "#111"}, "encoding": {"x": {"datum": 1000}, "y": {"datum": 110}}}
  ]
 },
 {
  "width": 302, "height": 226,
  "title": {"text": "(f)"},
  "encoding": {
   "x": {"field": "c", "type": "quantitative", "scale": {"type": "log", "domain": [0.001, 1000], "nice": false}, "axis": {"values": [0.001, 0.01, 0.1, 1, 10, 100, 1000], "format": ".2f", "title": "Drug concentration (nM)", "titleFontSize": 12.5}},
   "y": {"field": "v", "type": "quantitative", "scale": {"domain": [0, 120], "nice": false}, "axis": {"values": [0, 20, 40, 60, 80, 100, 120], "title": "% cell viability", "titleColor": "#2a1a14"}}
  },
  "layer": [
   {"data": {"name": "fit"}, "transform": [{"filter": "datum.p == 'f'"}], "mark": {"type": "line", "interpolate": "monotone", "color": "#3a3a3a", "strokeWidth": 1.2}, "encoding": {"detail": {"field": "s"}}},
   {"data": {"name": "pts"}, "transform": [{"filter": "datum.p == 'f'"}], "mark": {"type": "errorbar", "ticks": {"size": 8, "color": "#000"}, "color": "#000"}, "encoding": {"yError": {"field": "e"}}},
   {"data": {"name": "pts"}, "transform": [{"filter": "datum.p == 'f'"}], "mark": {"type": "point", "filled": true, "opacity": 1},
    "encoding": {
     "color": {"field": "s", "type": "nominal", "scale": {"domain": ["H", "P", "A", "N"], "range": ["#FFC20E", "#E8253A", "#1E1E5E", "#1A7F3C"]}, "legend": {"title": null, "legendX": 6, "legendY": 161, "labelFontSize": 12, "rowPadding": 3.5, "labelExpr": "datum.label == 'H' ? 'HSA-PEG' : datum.label == 'P' ? 'Paclitaxel (PTX)' : datum.label == 'A' ? 'Abraxane ®' : 'PTX/HSA-PEG'"}},
     "shape": {"field": "s", "type": "nominal", "scale": {"domain": ["H", "P", "A", "N"], "range": ["diamond", "triangle-up", "diamond", "square"]}, "legend": {"title": null, "legendX": 6, "legendY": 161, "labelFontSize": 12, "rowPadding": 3.5, "labelExpr": "datum.label == 'H' ? 'HSA-PEG' : datum.label == 'P' ? 'Paclitaxel (PTX)' : datum.label == 'A' ? 'Abraxane ®' : 'PTX/HSA-PEG'"}},
     "size": {"field": "s", "type": "nominal", "scale": {"domain": ["H", "P", "A", "N"], "range": [90, 45, 40, 64]}, "legend": {"title": null, "legendX": 6, "legendY": 161, "labelFontSize": 12, "rowPadding": 3.5, "labelExpr": "datum.label == 'H' ? 'HSA-PEG' : datum.label == 'P' ? 'Paclitaxel (PTX)' : datum.label == 'A' ? 'Abraxane ®' : 'PTX/HSA-PEG'"}}
    }},
   {"data": {"values": [{}]}, "mark": {"type": "text", "text": "MCF-7 (72 h)", "align": "right", "baseline": "middle", "dx": -14, "fontSize": 18, "fontWeight": "bold", "color": "#111"}, "encoding": {"x": {"datum": 1000}, "y": {"datum": 108.5}}}
  ]
 }
]
}
